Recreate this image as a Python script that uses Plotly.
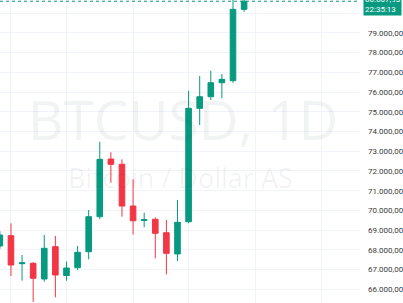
import pandas as pd
import plotly.graph_objects as go

# ---- data ----
dates = pd.date_range("2024-10-20", periods=23, freq="D")
opens = [68195, 68718, 67300, 67318, 66522, 68160, 66700, 67095, 67906, 69681,
         72606, 72338, 70223, 69490, 69549, 68870, 67790, 69427, 75177, 75765,
         76475, 76576, 80196]
highs = [68950, 69346, 67739, 67380, 68753, 68702, 67410, 68195, 70020, 73483,
         72946, 72591, 71577, 69884, 69650, 69514, 70527, 76069, 76814, 77083,
         76916, 81000, 80700]
lows = [68050, 66674, 66436, 65360, 66385, 65594, 66436, 66978, 67521, 69549,
        71405, 69681, 68778, 69143, 67572, 66760, 67435, 69346, 74330, 75598,
        75684, 76475, 80074]
closes = [68753, 67232, 67340, 66558, 68079, 66725, 67080, 67876, 69681, 72591,
          72338, 70223, 69478, 69540, 68839, 67825, 69397, 75177, 75765, 76475,
          76647, 80196, 80607.93]
price_ticks = list(range(66000, 81000, 1000))
grid_dates = pd.to_datetime(["2024-10-21", "2024-10-26", "2024-11-01",
                             "2024-11-06", "2024-11-12", "2024-11-18"])
symbol = "BTCUSD, 1D"
description = "Bitcoin / Dollar AS"
last_price_text = "80.607,93"
countdown_text = "22:35:13"

UP = "#089981"
DOWN = "#F23645"
GRID = "#f0f3fa"


def fmt(v):
    s = f"{v:,.2f}"
    return s.replace(",", "X").replace(".", ",").replace("X", ".")


tick_text = [fmt(v) if v < 80000 else "" for v in price_ticks]

fig = go.Figure()
fig.add_trace(go.Candlestick(
    x=dates, open=opens, high=highs, low=lows, close=closes,
    increasing=dict(line=dict(color=UP, width=1), fillcolor=UP),
    decreasing=dict(line=dict(color=DOWN, width=1), fillcolor=DOWN),
    whiskerwidth=0, showlegend=False, hoverinfo="skip",
))

x0 = dates[0] + pd.Timedelta(hours=0.3)
x1 = dates[0] + pd.Timedelta(days=32.44)

fig.update_layout(
    width=403, height=303,
    margin=dict(l=0, r=43, t=0, b=0),
    paper_bgcolor="white", plot_bgcolor="white",
    separators=",.",
    xaxis=dict(range=[x0, x1], rangeslider=dict(visible=False),
               tickvals=grid_dates, showticklabels=False,
               showgrid=True, gridcolor=GRID, gridwidth=1,
               zeroline=False, showline=False, ticks=""),
    yaxis=dict(side="right", range=[65305, 80670],
               tickvals=price_ticks, ticktext=tick_text,
               showgrid=True, gridcolor=GRID, gridwidth=1,
               zeroline=False, showline=False, ticks="",
               ticklabelstandoff=7,
               tickfont=dict(family="Roboto", size=8, color="#3a3a3a")),
    boxgap=0.28,
)

# watermark
fig.add_annotation(text=symbol, xref="paper", yref="paper", x=0.5, y=1 - 118 / 303,
                   xanchor="center", yanchor="middle", showarrow=False, xshift=3,
                   font=dict(family="Open Sans", size=55, color="rgba(42,46,57,0.06)"))
fig.add_annotation(text=description, xref="paper", yref="paper", x=0.5, y=1 - 177 / 303,
                   xanchor="center", yanchor="middle", showarrow=False, xshift=0,
                   font=dict(family="Open Sans", size=27, color="rgba(42,46,57,0.06)"))

# last price line + label
fig.add_shape(type="line", xref="paper", yref="y", x0=0, x1=1,
              y0=closes[-1], y1=closes[-1],
              line=dict(color=UP, width=1, dash="dot"))
fig.add_annotation(text=last_price_text + "<br>" + countdown_text,
                   xref="paper", yref="y", x=1, y=closes[-1],
                   xanchor="left", yanchor="top", xshift=3, yshift=8,
                   showarrow=False, align="left", bgcolor=UP, borderpad=1,
                   font=dict(family="Roboto", size=8, color="white"))

fig.write_html("out.html")
